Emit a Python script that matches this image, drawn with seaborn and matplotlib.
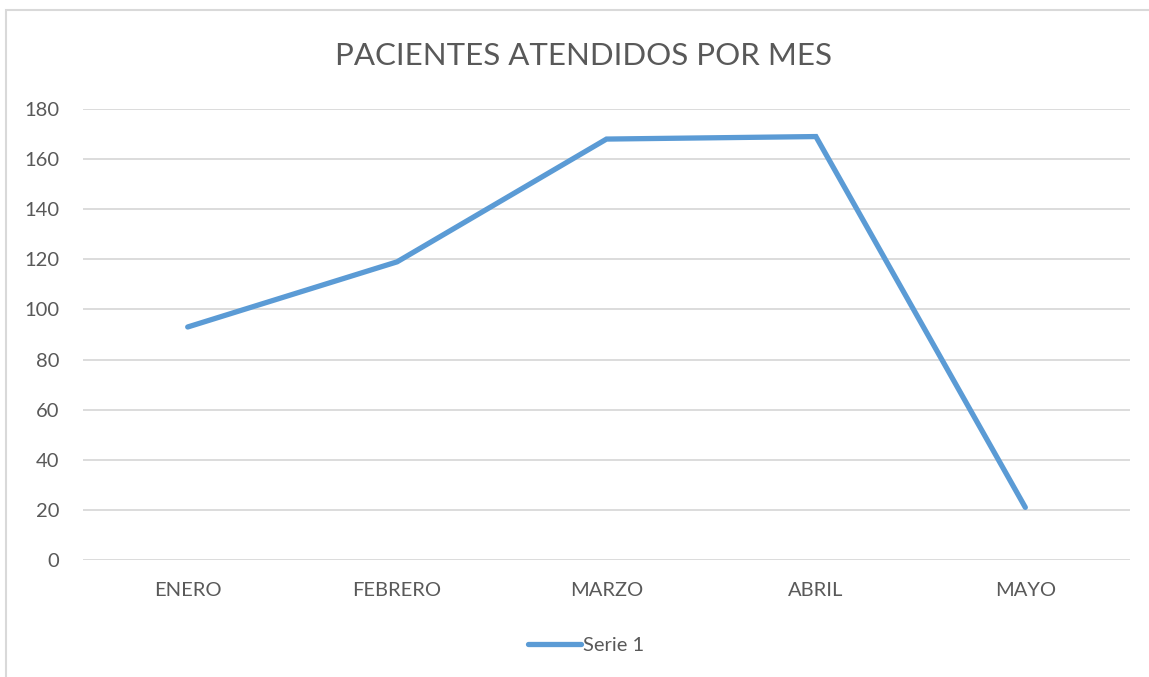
import matplotlib
matplotlib.use("Agg")
import matplotlib.pyplot as plt
from matplotlib.patches import Rectangle
import pandas as pd
import seaborn as sns

# data
meses = ["ENERO", "FEBRERO", "MARZO", "ABRIL", "MAYO"]
pacientes = [93, 119, 168, 169, 21]
serie = "Serie 1"

df = pd.DataFrame({"mes": meses, "pacientes": pacientes})

sns.set_theme(style="white")
plt.rcParams['font.family'] = ['Lato', 'DejaVu Sans']

gris = "#595959"
azul = "#5B9BD5"

fig = plt.figure(figsize=(11.49, 6.77), dpi=100)
ax = fig.add_axes([83 / 1149, 1 - 560 / 677, (1130 - 83) / 1149, (560 - 109) / 677])

sns.lineplot(data=df, x="mes", y="pacientes", ax=ax, color=azul, linewidth=3.8,
             label=serie, sort=False, solid_capstyle="round", solid_joinstyle="miter")

ax.set_xlim(-0.5, len(meses) - 0.5)
ax.set_ylim(0, 180)
ax.set_yticks(range(0, 181, 20))
ax.yaxis.grid(True, color="#D9D9D9", linewidth=1.3)
ax.xaxis.grid(False)
ax.set_axisbelow(True)
for s in ax.spines.values():
    s.set_visible(False)
ax.tick_params(axis="both", length=0, labelsize=14.5, labelcolor=gris)
ax.tick_params(axis="y", pad=17)
ax.tick_params(axis="x", pad=16)
ax.set_xlabel("")
ax.set_ylabel("")

fig.text(583 / 1149, 1 - 56 / 677, "PACIENTES ATENDIDOS POR MES", ha="center", va="center",
         fontsize=22.5, color=gris)

leg = ax.legend(loc="center", bbox_to_anchor=((586 - 83) / 1047, (560 - 645) / (560 - 109)),
                frameon=False, fontsize=14.5, handlelength=2.6, handletextpad=0.1)
for t in leg.get_texts():
    t.set_color(gris)

# chart area border
fig.patches.append(Rectangle((6 / 1149, -0.1), 1.2, 1 - 10 / 677 + 0.1,
                             transform=fig.transFigure, fill=False,
                             edgecolor="#D9D9D9", linewidth=1.5))

fig.savefig("out.png", dpi=100)
